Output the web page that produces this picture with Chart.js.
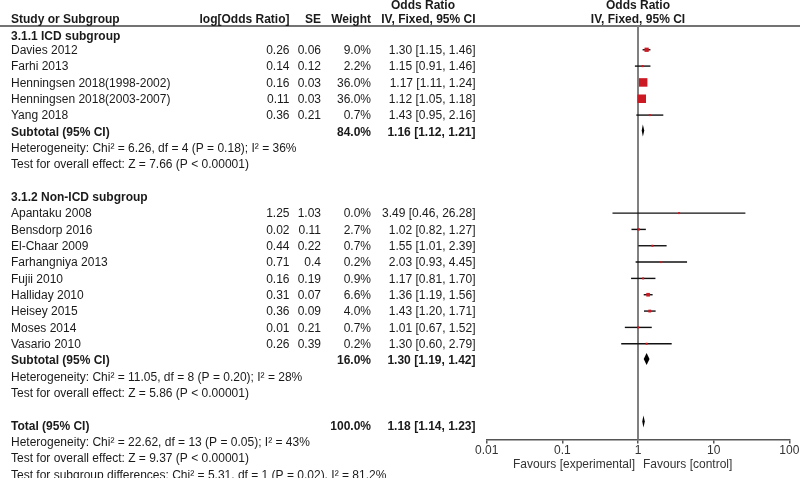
<!DOCTYPE html>
<html>
<head>
<meta charset="utf-8">
<script src="https://cdn.jsdelivr.net/npm/chart.js@4.4.0/dist/chart.umd.min.js"></script>
<style>
  html, body { margin: 0; padding: 0; background: #fff; }
</style>
</head>
<body>
<canvas id="forest" width="800" height="478"></canvas>
<script>
// 3.1.1 ICD subgroup
var icdStudies = ["Davies 2012", "Farhi 2013", "Henningsen 2018(1998-2002)", "Henningsen 2018(2003-2007)", "Yang 2018"];
var icdLogOR = [0.26, 0.14, 0.16, 0.11, 0.36];
var icdSE = [0.06, 0.12, 0.03, 0.03, 0.21];
var icdWeight = [9.0, 2.2, 36.0, 36.0, 0.7];
var icdOR = [1.30, 1.15, 1.17, 1.12, 1.43];
var icdLow = [1.15, 0.91, 1.11, 1.05, 0.95];
var icdHigh = [1.46, 1.46, 1.24, 1.18, 2.16];

// 3.1.2 Non-ICD subgroup
var nonStudies = ["Apantaku 2008", "Bensdorp 2016", "El-Chaar 2009", "Farhangniya 2013", "Fujii 2010",
                  "Halliday 2010", "Heisey 2015", "Moses 2014", "Vasario 2010"];
var nonLogOR = [1.25, 0.02, 0.44, 0.71, 0.16, 0.31, 0.36, 0.01, 0.26];
var nonSE = [1.03, 0.11, 0.22, 0.4, 0.19, 0.07, 0.09, 0.21, 0.39];
var nonWeight = [0.0, 2.7, 0.7, 0.2, 0.9, 6.6, 4.0, 0.7, 0.2];
var nonOR = [3.49, 1.02, 1.55, 2.03, 1.17, 1.36, 1.43, 1.01, 1.30];
var nonLow = [0.46, 0.82, 1.01, 0.93, 0.81, 1.19, 1.20, 0.67, 0.60];
var nonHigh = [26.28, 1.27, 2.39, 4.45, 1.70, 1.56, 1.71, 1.52, 2.79];

// subtotals
var groupTitles = ["3.1.1 ICD subgroup", "3.1.2 Non-ICD subgroup"];
var subWeight = [84.0, 16.0];
var subOR = [1.16, 1.30];
var subLow = [1.12, 1.19];
var subHigh = [1.21, 1.42];
var subHet = ["Heterogeneity: Chi\u00b2 = 6.26, df = 4 (P = 0.18); I\u00b2 = 36%",
              "Heterogeneity: Chi\u00b2 = 11.05, df = 8 (P = 0.20); I\u00b2 = 28%"];
var subEffect = ["Test for overall effect: Z = 7.66 (P < 0.00001)",
                 "Test for overall effect: Z = 5.86 (P < 0.00001)"];

// total
var totalWeight = [100.0];
var totalOR = [1.18];
var totalLow = [1.14];
var totalHigh = [1.23];
var totalNotes = ["Heterogeneity: Chi\u00b2 = 22.62, df = 13 (P = 0.05); I\u00b2 = 43%",
                  "Test for overall effect: Z = 9.37 (P < 0.00001)",
                  "Test for subgroup differences: Chi\u00b2 = 5.31, df = 1 (P = 0.02), I\u00b2 = 81.2%"];

var xTicks = [0.01, 0.1, 1, 10, 100];

// build the table rows
var rows = [];
var r = 0;
function addGroup(g, names, lor, se, w, or, lo, hi) {
  rows.push({kind: 'title', y: r++, text: groupTitles[g]});
  names.forEach(function (n, i) {
    rows.push({kind: 'study', y: r++, name: n, lor: lor[i], se: se[i], w: w[i], or: or[i], lo: lo[i], hi: hi[i]});
  });
  rows.push({kind: 'sub', y: r++, name: 'Subtotal (95% CI)', w: subWeight[g], or: subOR[g], lo: subLow[g], hi: subHigh[g]});
  rows.push({kind: 'note', y: r++, text: subHet[g]});
  rows.push({kind: 'note', y: r++, text: subEffect[g]});
  r++;
}
addGroup(0, icdStudies, icdLogOR, icdSE, icdWeight, icdOR, icdLow, icdHigh);
addGroup(1, nonStudies, nonLogOR, nonSE, nonWeight, nonOR, nonLow, nonHigh);
rows.push({kind: 'total', y: r++, name: 'Total (95% CI)', w: totalWeight[0], or: totalOR[0], lo: totalLow[0], hi: totalHigh[0]});
totalNotes.forEach(function (t) { rows.push({kind: 'note', y: r++, text: t}); });

var studyRows = rows.filter(function (o) { return o.kind === 'study'; });

var FONT = '"Liberation Sans", Arial, sans-serif';
var TEXT = '#1a1a1a';

function ciText(o) {
  return o.or.toFixed(2) + ' [' + o.lo.toFixed(2) + ', ' + o.hi.toFixed(2) + ']';
}

var forestPlugin = {
  id: 'forest',
  beforeDatasetsDraw: function (chart) {
    var ctx = chart.ctx, xs = chart.scales.x, ys = chart.scales.y, a = chart.chartArea;
    ctx.save();
    // header rule
    ctx.strokeStyle = '#444';
    ctx.lineWidth = 1.5;
    ctx.beginPath(); ctx.moveTo(0, a.top); ctx.lineTo(chart.width, a.top); ctx.stroke();
    // line of no effect
    var x1 = xs.getPixelForValue(1);
    ctx.strokeStyle = '#808080';
    ctx.lineWidth = 2;
    ctx.beginPath(); ctx.moveTo(x1, a.top); ctx.lineTo(x1, a.bottom); ctx.stroke();
    // confidence intervals
    ctx.strokeStyle = '#111';
    ctx.lineWidth = 1.4;
    studyRows.forEach(function (o) {
      var y = ys.getPixelForValue(o.y);
      ctx.beginPath();
      ctx.moveTo(xs.getPixelForValue(o.lo), y);
      ctx.lineTo(xs.getPixelForValue(o.hi), y);
      ctx.stroke();
    });
    ctx.restore();
  },
  afterDatasetsDraw: function (chart) {
    var ctx = chart.ctx, xs = chart.scales.x, ys = chart.scales.y;
    ctx.save();
    ctx.fillStyle = '#000';
    rows.forEach(function (o) {
      if (o.kind !== 'sub' && o.kind !== 'total') return;
      var y = ys.getPixelForValue(o.y) - (o.kind === 'total' ? 4 : 1);
      var h = 6;
      ctx.beginPath();
      ctx.moveTo(xs.getPixelForValue(o.lo), y);
      ctx.lineTo(xs.getPixelForValue(o.or), y - h);
      ctx.lineTo(xs.getPixelForValue(o.hi), y);
      ctx.lineTo(xs.getPixelForValue(o.or), y + h);
      ctx.closePath();
      ctx.fill();
    });
    ctx.restore();
  },
  afterDraw: function (chart) {
    var ctx = chart.ctx, xs = chart.scales.x, ys = chart.scales.y;
    var x1 = xs.getPixelForValue(1);
    var cols = {name: 11, lor: 289.5, se: 321, w: 371, ci: 475.5};
    var reg = '12px ' + FONT, bold = 'bold 12px ' + FONT;
    ctx.save();
    ctx.fillStyle = TEXT;
    ctx.textBaseline = 'middle';

    function put(txt, x, y, align, font) {
      ctx.font = font || reg;
      ctx.textAlign = align || 'left';
      ctx.fillText(txt, x, y);
    }

    // headers
    put('Odds Ratio', 423, 6, 'center', bold);
    put('Odds Ratio', x1, 6, 'center', bold);
    put('Study or Subgroup', cols.name, 20, 'left', bold);
    put('log[Odds Ratio]', cols.lor, 20, 'right', bold);
    put('SE', cols.se, 20, 'right', bold);
    put('Weight', cols.w, 20, 'right', bold);
    put('IV, Fixed, 95% CI', cols.ci, 20, 'right', bold);
    put('IV, Fixed, 95% CI', x1, 20, 'center', bold);

    rows.forEach(function (o) {
      // first row sits a little lower, clear of the header rule
      var y = ys.getPixelForValue(o.y) + (o.y === 0 ? 3 : 1);
      if (o.kind === 'title') {
        put(o.text, cols.name, y, 'left', bold);
      } else if (o.kind === 'note') {
        put(o.text, cols.name, y, 'left', reg);
      } else if (o.kind === 'study') {
        put(o.name, cols.name, y, 'left', reg);
        put(String(o.lor), cols.lor, y, 'right', reg);
        put(String(o.se), cols.se, y, 'right', reg);
        put(o.w.toFixed(1) + '%', cols.w, y, 'right', reg);
        put(ciText(o), cols.ci, y, 'right', reg);
      } else {
        put(o.name, cols.name, y, 'left', bold);
        put(o.w.toFixed(1) + '%', cols.w, y, 'right', bold);
        put(ciText(o), cols.ci, y, 'right', bold);
      }
    });

    // favours labels
    ctx.fillStyle = '#333';
    put('Favours [experimental]', x1 - 3, 465, 'right', reg);
    put('Favours [control]', x1 + 5, 465, 'left', reg);
    ctx.restore();
  }
};

var ctx = document.getElementById("forest").getContext("2d");

new Chart(ctx, {
  type: 'scatter',
  data: {
    datasets: [{
      data: studyRows.map(function (o) { return {x: o.or, y: o.y}; }),
      pointStyle: 'rect',
      pointRadius: studyRows.map(function (o) { return Math.max(2, 1.42 * Math.sqrt(o.w)) / 1.414; }),
      pointHoverRadius: studyRows.map(function (o) { return Math.max(2, 1.42 * Math.sqrt(o.w)) / 1.414; }),
      backgroundColor: '#cc1a24',
      borderWidth: 0
    }]
  },
  options: {
    responsive: false,
    animation: false,
    clip: false,
    layout: {
      padding: {left: 486.7, right: 10.7, top: 26, bottom: 20}
    },
    plugins: {
      legend: { display: false },
      tooltip: { enabled: false }
    },
    scales: {
      x: {
        type: 'logarithmic',
        min: 0.01,
        max: 100,
        afterBuildTicks: function (scale) {
          scale.ticks = xTicks.map(function (v) { return {value: v}; });
        },
        ticks: {
          autoSkip: false,
          maxRotation: 0,
          padding: 0,
          color: '#333',
          font: { family: FONT, size: 12 },
          callback: function (v) { return String(v); }
        },
        grid: {
          drawOnChartArea: false,
          tickLength: 4,
          color: '#555',
          lineWidth: 1.5
        },
        border: { color: '#555', width: 1.5 }
      },
      y: {
        type: 'linear',
        display: false,
        reverse: true,
        min: -0.455,
        max: 24.87
      }
    }
  },
  plugins: [forestPlugin]
});
</script>
</body>
</html>
